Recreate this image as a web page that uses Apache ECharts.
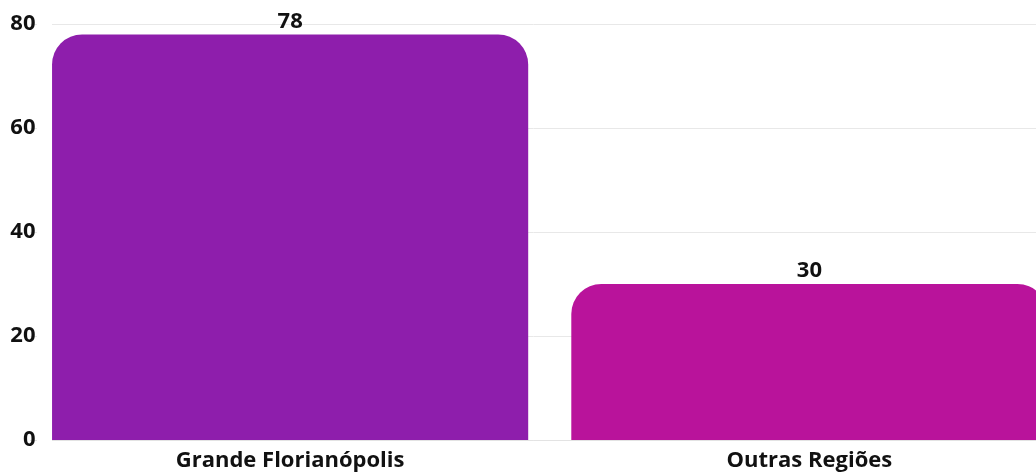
<!DOCTYPE html>
<html><head><meta charset="utf-8">
<script src="https://cdn.jsdelivr.net/npm/echarts@6/dist/echarts.min.js"></script>
<style>html,body{margin:0;padding:0;background:#fff;overflow:hidden}#c{width:1036px;height:474px}</style>
</head><body><div id="c"></div>
<script>
const categories = ['Grande Florianópolis', 'Outras Regiões'];
const values = [78, 30];
const barColors = ['#8E1EAC', '#B9139B'];
const yTicks = [0, 20, 40, 60, 80];

const chart = echarts.init(document.getElementById('c'));
const font = '"Open Sans", sans-serif';
chart.setOption({
  animation: false,
  grid: { left: 30.5, right: -33, top: 24, bottom: 34, outerBoundsMode: 'none', containLabel: false },
  xAxis: {
    type: 'category', data: categories,
    axisLine: { lineStyle: { color: '#e3e3e3' } },
    axisTick: { show: false },
    axisLabel: { color: '#111', fontFamily: font, fontWeight: 'bold', fontSize: 22, margin: 10 }
  },
  yAxis: {
    type: 'value', min: yTicks[0], max: yTicks[yTicks.length - 1], interval: 20,
    axisLine: { show: false }, axisTick: { show: false },
    splitLine: { lineStyle: { color: '#e8e8e8' } },
    axisLabel: { color: '#111', fontFamily: font, fontWeight: 'bold', fontSize: 22, margin: -5 }
  },
  graphic: [{ type: 'rect', z: 1, shape: { x: 37, y: 0, width: 15, height: 445 }, style: { fill: '#fff' } }],
  series: [{
    type: 'bar', barCategoryGap: '8.3%', z: 3,
    data: values.map((v, i) => ({ value: v, itemStyle: { color: barColors[i] } })),
    itemStyle: { borderRadius: [30, 30, 0, 0] },
    label: { show: true, position: 'top', distance: 2, color: '#111', fontFamily: font, fontWeight: 'bold', fontSize: 22 }
  }]
});
</script></body></html>
